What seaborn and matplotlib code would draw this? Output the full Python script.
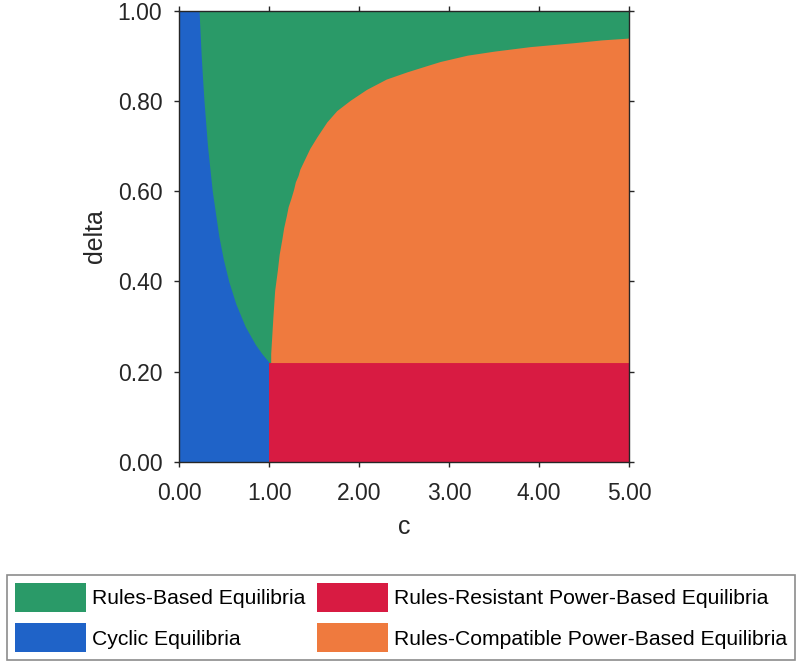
import matplotlib
matplotlib.use("Agg")
import matplotlib.pyplot as plt
from matplotlib.patches import Patch
import seaborn as sns

# Boundary of the cyclic region: largest c (cyclic) for each delta level
cyclic_delta = [1.00, 0.95, 0.90, 0.85, 0.80, 0.70, 0.60, 0.50, 0.45, 0.40,
                0.35, 0.30, 0.26, 0.24, 0.22, 0.22, 0.00]
cyclic_c = [0.22, 0.232, 0.244, 0.259, 0.275, 0.314, 0.367, 0.44, 0.489, 0.55,
            0.629, 0.733, 0.846, 0.917, 1.00, 1.00, 1.00]

# Upper boundary of the rules-compatible power-based region
compat_c = [1.016, 1.016, 1.04, 1.06, 1.09, 1.11, 1.14, 1.16, 1.19, 1.21, 1.24,
            1.27, 1.29, 1.32, 1.34, 1.45, 1.53, 1.64, 1.75, 1.90, 2.08, 2.30,
            2.53, 2.77, 2.90, 3.20, 3.50, 3.90, 4.40, 4.70, 5.00]
compat_top = [0.22, 0.24, 0.32, 0.38, 0.425, 0.46, 0.494, 0.519, 0.546, 0.566,
              0.584, 0.604, 0.621, 0.635, 0.649, 0.695, 0.721, 0.754, 0.779,
              0.802, 0.826, 0.849, 0.865, 0.880, 0.888, 0.902, 0.911, 0.921,
              0.930, 0.936, 0.940]

# Rules-resistant power-based region: c range and delta ceiling
resist_c = [1.0, 5.0]
resist_top = 0.22

c_ticks = [0, 1, 2, 3, 4, 5]
delta_ticks = [0.0, 0.2, 0.4, 0.6, 0.8, 1.0]

labels = ["Rules-Based Equilibria", "Cyclic Equilibria",
          "Rules-Resistant Power-Based Equilibria",
          "Rules-Compatible Power-Based Equilibria"]
colors = {"green": "#2A9A68", "blue": "#1F63C8",
          "red": "#D81B42", "orange": "#EF7A3E"}

sns.set_theme(style="ticks")
plt.rcParams["font.family"] = ["Liberation Sans", "DejaVu Sans"]
ink = "#262626"

fig = plt.figure(figsize=(7.96, 6.63), dpi=100)
ax = fig.add_axes([0.2252, 0.3036, 0.5653, 0.6798])

# Rules-based background
ax.fill_between([0, 5], 0, 1, color=colors["green"], lw=0)
# Cyclic region
ax.fill_betweenx(cyclic_delta, 0, cyclic_c, color=colors["blue"], lw=0)
# Rules-resistant region
ax.fill_between(resist_c, 0, resist_top, color=colors["red"], lw=0)
# Rules-compatible region
ax.fill_between(compat_c, resist_top, compat_top, color=colors["orange"], lw=0)

ax.set_xlim(0, 5)
ax.set_ylim(0, 1)
ax.set_xticks(c_ticks)
ax.set_yticks(delta_ticks)
ax.set_xticklabels([f"{v:.2f}" for v in c_ticks])
ax.set_yticklabels([f"{v:.2f}" for v in delta_ticks])
ax.tick_params(direction="out", length=3.6, width=1, colors=ink,
               labelsize=16.5, top=True, right=True,
               labeltop=False, labelright=False)
ax.tick_params(axis="x", pad=11)
ax.tick_params(axis="y", pad=8.6)
for s in ax.spines.values():
    s.set_visible(True)
    s.set_color(ink)
    s.set_linewidth(1)
ax.set_xlabel("c", fontsize=18, color=ink, labelpad=7)
ax.set_ylabel("delta", fontsize=18, color=ink, labelpad=8)

handles = [Patch(facecolor=colors["green"], edgecolor="none"),
           Patch(facecolor=colors["blue"], edgecolor="none"),
           Patch(facecolor=colors["red"], edgecolor="none"),
           Patch(facecolor=colors["orange"], edgecolor="none")]
leg = fig.legend(handles, labels, ncol=2, loc="upper left",
                 bbox_to_anchor=(0.0088, 0.1322), borderaxespad=0,
                 fontsize=15.2, frameon=True, fancybox=False,
                 handlelength=3.35, handleheight=1.7, handletextpad=0.3,
                 columnspacing=0.55, labelspacing=0.55, borderpad=0.38)
leg.get_frame().set_edgecolor("#707070")
leg.get_frame().set_linewidth(1.2)
for t in leg.get_texts():
    t.set_color("black")

fig.savefig("out.png", dpi=100)
